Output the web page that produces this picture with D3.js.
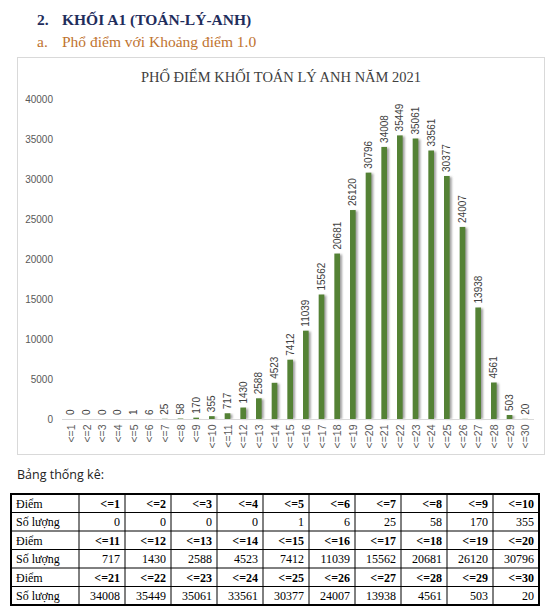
<!DOCTYPE html>
<html>
<head>
<meta charset="utf-8">
<script src="https://cdn.jsdelivr.net/npm/d3@7"></script>
<style>
  html, body { margin: 0; padding: 0; background: #fff; }
  svg { display: block; }
</style>
</head>
<body>
<svg id="chart" width="559" height="613"></svg>
<script>
const categories = ["<=1","<=2","<=3","<=4","<=5","<=6","<=7","<=8","<=9","<=10",
  "<=11","<=12","<=13","<=14","<=15","<=16","<=17","<=18","<=19","<=20",
  "<=21","<=22","<=23","<=24","<=25","<=26","<=27","<=28","<=29","<=30"];
const counts = [0,0,0,0,1,6,25,58,170,355,
  717,1430,2588,4523,7412,11039,15562,20681,26120,30796,
  34008,35449,35061,33561,30377,24007,13938,4561,503,20];
const yTicks = [0,5000,10000,15000,20000,25000,30000,35000,40000];
const heading1 = "KHỐI A1 (TOÁN-LÝ-ANH)";
const heading2 = "Phổ điểm với Khoảng điểm 1.0";
const chartTitle = "PHỔ ĐIỂM KHỐI TOÁN LÝ ANH NĂM 2021";
const tableCaption = "Bảng thống kê:";
const rowLabelScore = "Điểm";
const rowLabelCount = "Số lượng";

const svg = d3.select("#chart");
const serif = "'Liberation Serif', 'Times New Roman', serif";
const sans = "'Liberation Sans', Arial, sans-serif";

// Headings
svg.append("text").attr("x", 37).attr("y", 25).attr("font-family", serif)
  .attr("font-weight", "bold").attr("font-size", 15.5).attr("fill", "#1f2d5c").text("2.");
svg.append("text").attr("x", 62).attr("y", 25).attr("font-family", serif)
  .attr("font-weight", "bold").attr("font-size", 15.5).attr("fill", "#1f2d5c").text(heading1);
svg.append("text").attr("x", 37).attr("y", 47).attr("font-family", serif)
  .attr("font-size", 15.5).attr("fill", "#c0732f").text("a.");
svg.append("text").attr("x", 62).attr("y", 47).attr("font-family", serif)
  .attr("font-size", 15.5).attr("fill", "#c0732f").text(heading2);

// Chart frame
svg.append("rect").attr("x", 17.5).attr("y", 57.5).attr("width", 527).attr("height", 397)
  .attr("fill", "#fff").attr("stroke", "#d9d9d9").attr("stroke-width", 1);

svg.append("text").attr("x", 281).attr("y", 82).attr("text-anchor", "middle")
  .attr("font-family", serif).attr("font-size", 14.5).attr("fill", "#404040").text(chartTitle);

// Scales
const x = d3.scaleBand().domain(categories).range([63, 533]).paddingInner(0.64).paddingOuter(0.32);
const y = d3.scaleLinear().domain([0, 40000]).range([419, 99]);

// Y axis
const yAxis = d3.axisLeft(y).tickValues(yTicks).tickSize(0).tickPadding(0).tickFormat(d3.format("d"));
const yg = svg.append("g").attr("transform", "translate(53,0)").call(yAxis);
yg.select(".domain").remove();
yg.selectAll("text").attr("font-family", sans).attr("font-size", 10).attr("fill", "#595959");

// Shadow filter
const defs = svg.append("defs");
const f = defs.append("filter").attr("id", "sh").attr("x", "-50%").attr("y", "-10%").attr("width", "250%").attr("height", "130%");
f.append("feGaussianBlur").attr("stdDeviation", 1.2);

// Bars
const data = categories.map((c, i) => ({c, v: counts[i]}));
svg.append("g").selectAll("rect").data(data).join("rect")
  .attr("x", d => x(d.c) + 2).attr("y", d => y(d.v) + 1)
  .attr("width", x.bandwidth()).attr("height", d => Math.max(0, 419 - y(d.v) - 1))
  .attr("fill", "#8f8f8f").attr("opacity", 0.85).attr("filter", "url(#sh)");
svg.append("g").selectAll("rect").data(data).join("rect")
  .attr("x", d => x(d.c)).attr("y", d => y(d.v))
  .attr("width", x.bandwidth()).attr("height", d => 419 - y(d.v))
  .attr("fill", "#548235");

// X axis baseline
const xAxis = d3.axisBottom(x).tickSize(0).tickPadding(0);
const xg = svg.append("g").attr("transform", "translate(0,419.5)").call(xAxis);
xg.select(".domain").attr("stroke", "#d9d9d9").attr("d", "M62,0H534");
xg.selectAll(".tick text")
  .attr("font-family", sans).attr("font-size", 10.5).attr("fill", "#595959")
  .attr("text-anchor", "end").attr("dy", null)
  .attr("transform", "translate(4,5) rotate(-90)")
  .attr("x", 0).attr("y", 0);

// Value labels
svg.append("g").selectAll("text").data(data).join("text")
  .attr("transform", d => `translate(${x(d.c) + x.bandwidth() / 2 + 3.6},${y(d.v) - 4}) rotate(-90)`)
  .attr("font-family", sans).attr("font-size", 10).attr("fill", "#404040")
  .attr("text-anchor", "start").text(d => d.v);

// Caption
svg.append("text").attr("x", 17).attr("y", 479).attr("font-family", "'Open Sans', 'Liberation Sans', sans-serif")
  .attr("font-size", 12.5).attr("fill", "#222").text(tableCaption);

// Table
const tX0 = 11, tC0 = 79, colW = 46, tY0 = 494, rowH = 18.5;
const groups = [0, 1, 2];
const tbl = svg.append("g");
groups.forEach(g => {
  const idx = d3.range(g * 10, g * 10 + 10);
  const rows = [
    {label: rowLabelScore, vals: idx.map(i => categories[i]), bold: true},
    {label: rowLabelCount, vals: idx.map(i => counts[i]), bold: false}
  ];
  rows.forEach((r, ri) => {
    const rowY = tY0 + (g * 2 + ri) * rowH;
    tbl.append("text").attr("x", tX0 + 5).attr("y", rowY + 13.5)
      .attr("font-family", serif).attr("font-size", 12).attr("fill", "#000").text(r.label);
    r.vals.forEach((v, ci) => {
      tbl.append("text").attr("x", tC0 + (ci + 1) * colW - 5).attr("y", rowY + 13.5)
        .attr("text-anchor", "end").attr("font-family", serif).attr("font-size", 12)
        .attr("font-weight", r.bold ? "bold" : "normal").attr("fill", "#000").text(v);
    });
  });
});
// Grid lines
const tW = tC0 + 10 * colW - tX0;
const tH = 6 * rowH;
d3.range(1, 6).forEach(i => {
  tbl.append("line").attr("x1", tX0).attr("x2", tX0 + tW)
    .attr("y1", tY0 + i * rowH).attr("y2", tY0 + i * rowH)
    .attr("stroke", "#000").attr("stroke-width", 1);
});
d3.range(0, 10).forEach(i => {
  const xx = tC0 + i * colW;
  tbl.append("line").attr("x1", xx).attr("x2", xx).attr("y1", tY0).attr("y2", tY0 + tH)
    .attr("stroke", "#000").attr("stroke-width", 1);
});
tbl.append("rect").attr("x", tX0).attr("y", tY0).attr("width", tW).attr("height", tH)
  .attr("fill", "none").attr("stroke", "#000").attr("stroke-width", 2);
</script>
</body>
</html>
